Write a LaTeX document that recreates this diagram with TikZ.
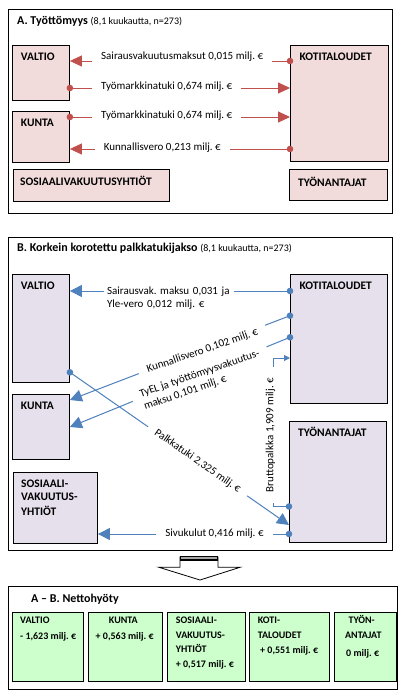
\documentclass[tikz,border=0pt]{standalone}
\usepackage{fontspec}
\setmainfont{Carlito}
\usetikzlibrary{arrows.meta}
\definecolor{pinkA}{HTML}{F2DCDB}
\definecolor{lavB}{HTML}{E6E0EC}
\definecolor{greenC}{HTML}{CCFFCC}
\definecolor{redA}{HTML}{C0504D}
\definecolor{blueB}{HTML}{4F81BD}
\frenchspacing
\begin{document}
\begin{tikzpicture}[x=1pt,y=-1pt,
  frame/.style={draw=black,line width=1pt},
  boxbase/.style={draw=black,line width=0.9pt,anchor=north west,inner sep=0pt},
  boxA/.style={boxbase,fill=pinkA},
  boxB/.style={boxbase,fill=lavB},
  boxC/.style={boxbase,fill=greenC},
  hd/.style={font=\fontsize{11.5}{13.8}\selectfont\bfseries,inner sep=0pt,anchor=base west},
  hdc/.style={font=\fontsize{10}{12}\selectfont\bfseries,inner sep=0pt,anchor=base west},
  ttl/.style={font=\fontsize{12}{14}\selectfont\bfseries,inner sep=0pt,anchor=base west},
  lbl/.style={font=\fontsize{11}{13.3}\selectfont\frenchspacing,fill=white,inner xsep=9pt,inner ysep=2pt},
  conA/.style={draw=redA,line width=1pt,-{Triangle[length=12pt,width=11pt]}},
  conB/.style={draw=blueB,line width=1pt,-{Triangle[length=12pt,width=12pt]}},
  conBs/.style={draw=blueB,line width=1pt,-{Triangle[length=6pt,width=6pt]}}
]
\useasboundingbox[fill=white] (0,0) rectangle (405,699);

% ---------------- Section A ----------------
\draw[frame] (8,9.3) rectangle (392.3,213.3);
\node[ttl] (titleA) at (17,24) {A. Työttömyys {\fontsize{10}{12}\selectfont\mdseries(8,1 kuukautta, n=273)}};

\node[boxA,minimum width=57pt,minimum height=55pt] (valA) at (12,45) {};
\node[boxA,minimum width=57pt,minimum height=51pt] (kunA) at (12,111) {};
\node[boxA,minimum width=156pt,minimum height=32pt] (sosA) at (13,169) {};
\node[boxA,minimum width=98pt,minimum height=116pt] (kotA) at (290,45) {};
\node[boxA,minimum width=98pt,minimum height=31pt] (tyoA) at (289,169) {};

\node[hd] (tvalA) at (20.7,60.7) {VALTIO};
\node[hd] (tkunA) at (20.7,126) {KUNTA};
\node[hd] (tsosA) at (20,185) {SOSIAALIVAKUUTUSYHTIÖT};
\node[hd] (tkotA) at (299.3,60.7) {KOTITALOUDET};
\node[hd] (ttyoA) at (298,186) {TYÖNANTAJAT};

\draw[conA] (kotA.west |- 0,61) -- node[lbl,pos=0.49,yshift=4pt] (lA1) {Sairausvakuutusmaksut 0,015 milj. €} (valA.east |- 0,61);
\draw[conA] (valA.east |- 0,88) -- node[lbl,pos=0.44,yshift=1.5pt] (lA2) {Työmarkkinatuki 0,674 milj. €} (kotA.west |- 0,88);
\draw[conA] (kunA.east |- 0,117) -- node[lbl,pos=0.44,yshift=1.5pt] (lA3) {Työmarkkinatuki 0,674 milj. €} (kotA.west |- 0,117);
\draw[conA] (kotA.west |- 0,149) -- node[lbl,pos=0.58,yshift=1.5pt] (lA4) {Kunnallisvero 0,213 milj. €} (kunA.east |- 0,149);
\fill[redA] (kotA.west |- 0,61) circle[radius=3.3];
\fill[redA] (valA.east |- 0,88) circle[radius=3.3];
\fill[redA] (kunA.east |- 0,117) circle[radius=3.3];
\fill[redA] (kotA.west |- 0,149) circle[radius=3.3];

% ---------------- Section B ----------------
\draw[frame] (8,237.3) rectangle (392.3,550.7);
\node[ttl] (titleB) at (17,251.7) {B. Korkein korotettu palkkatukijakso {\fontsize{10}{12}\selectfont\mdseries(8,1 kuukautta, n=273)}};

\node[boxB,minimum width=57pt,minimum height=108pt] (valB) at (12,274) {};
\node[boxB,minimum width=57pt,minimum height=65pt] (kunB) at (12,394) {};
\node[boxB,minimum width=84pt,minimum height=71pt] (sosB) at (13,472) {};
\node[boxB,minimum width=97pt,minimum height=129pt] (kotB) at (290,274) {};
\node[boxB,minimum width=97pt,minimum height=121pt] (tyoB) at (289,421) {};

\node[hd] (tvalB) at (20.7,289.3) {VALTIO};
\node[hd] (tkunB) at (20.7,409.3) {KUNTA};
\node[hd] (tsosB1) at (21,487) {SOSIAALI-};
\node[hd] (tsosB2) at (21,500.7) {VAKUUTUS-};
\node[hd] (tsosB3) at (21,515.7) {YHTIÖT};
\node[hd] (tkotB) at (299.3,289.3) {KOTITALOUDET};
\node[hd] (ttyoB) at (298,436.7) {TYÖNANTAJAT};

\draw[conB] (kotB.west |- 0,291) -- node[lbl,pos=0.847,anchor=west,yshift=-7pt,inner xsep=3pt,text width=124pt,align=left] (lB1) {Sairausvak. maksu 0,031 ja\\Yle-vero 0,012 milj. €} (valB.east |- 0,291);
\draw[conB] (kotB.west |- 0,315.7) -- node[lbl,pos=0.40,rotate=19,yshift=-1.5pt] (lB2) {Kunnallisvero 0,102 milj. €} (kunB.east |- 0,400);
\draw[conB] (kotB.west |- 0,337.3) -- node[lbl,pos=0.41,rotate=19,yshift=-6.5pt,align=left] (lB3) {TyEL ja työttömyysvakuutus-\\maksu 0,101 milj. €} (kunB.east |- 0,427);
\draw[conB] (valB.east |- 0,372.3) -- node[lbl,pos=0.583,rotate=-35] (lB4) {Palkkatuki 2,325 milj. €} (tyoB.west |- 0,525);
\coordinate (bpBot) at (273.3,506.5);
\coordinate (bpTop) at (273.3,358);
\draw[conBs] (tyoB.west |- 0,506.5) -- (bpBot) -- node[lbl,pos=0.48,rotate=90,yshift=2.75pt,inner xsep=11pt] (lB5) {Bruttopalkka 1,909 milj. €} (bpTop) -- (kotB.west |- 0,358);
\draw[conB] (tyoB.west |- 0,534) -- node[lbl,pos=0.39] (lB6) {Sivukulut 0,416 milj. €} (sosB.east |- 0,534);
\fill[blueB] (kotB.west |- 0,291) circle[radius=3.3];
\fill[blueB] (kotB.west |- 0,315.7) circle[radius=3.3];
\fill[blueB] (kotB.west |- 0,337.3) circle[radius=3.3];
\fill[blueB] (valB.east |- 0,372.3) circle[radius=3.3];
\fill[blueB] (tyoB.west |- 0,506.5) circle[radius=3.3];
\fill[blueB] (tyoB.west |- 0,534) circle[radius=3.3];

% ---------------- Big arrow ----------------
\draw[fill=white,line width=0.8pt] (180,557) -- (218,557) -- (218,567.3) -- (240,567.3) -- (200,580) -- (159,567.3) -- (180,567.3) -- cycle;
\fill[black] (180,555.5) rectangle (218,560.5);
\fill[gray!70] (180.8,557.3) rectangle (217.2,558.8);

% ---------------- Section C ----------------
\draw[frame] (8,586.7) rectangle (397.7,689.3);
\node[ttl] (titleC) at (31,602.3) {A – B. Nettohyöty};

\node[boxC,minimum width=71.6pt,minimum height=69.3pt] (valC) at (11.7,611.7) {};
\node[boxC,minimum width=74pt,minimum height=69.3pt] (kunC) at (87.7,611.7) {};
\node[boxC,minimum width=78.3pt,minimum height=69.3pt] (sosC) at (166.7,611.7) {};
\node[boxC,minimum width=80pt,minimum height=69.3pt] (kotC) at (249.3,611.7) {};
\node[boxC,minimum width=61.4pt,minimum height=69.3pt] (tyoC) at (334.3,611.7) {};

\node[hdc] (tvalC1) at (20,623.3) {VALTIO};
\node[hdc] (tvalC2) at (20,639) {- 1,623 milj. €};
\node[hdc,anchor=base] (tkunC1) at (123.3,623.3) {KUNTA};
\node[hdc,anchor=base] (tkunC2) at (124.7,639) {+ 0,563 milj. €};
\node[hdc] (tsosC1) at (175.7,623.3) {SOSIAALI-};
\node[hdc] (tsosC2) at (175.7,638.3) {VAKUUTUS-};
\node[hdc] (tsosC3) at (175.7,652.3) {YHTIÖT};
\node[hdc] (tsosC4) at (175.7,667.7) {+ 0,517 milj. €};
\node[hdc] (tkotC1) at (257.7,623.3) {KOTI-};
\node[hdc] (tkotC2) at (257.7,638.3) {TALOUDET};
\node[hdc] (tkotC3) at (260,653.3) {+ 0,551 milj. €};
\node[hdc,anchor=base] (ttyoC1) at (361.7,623.3) {TYÖN-};
\node[hdc,anchor=base] (ttyoC2) at (363.3,638.3) {ANTAJAT};
\node[hdc,anchor=base] (ttyoC3) at (362.7,656) {0 milj. €};
\end{tikzpicture}
\end{document}
